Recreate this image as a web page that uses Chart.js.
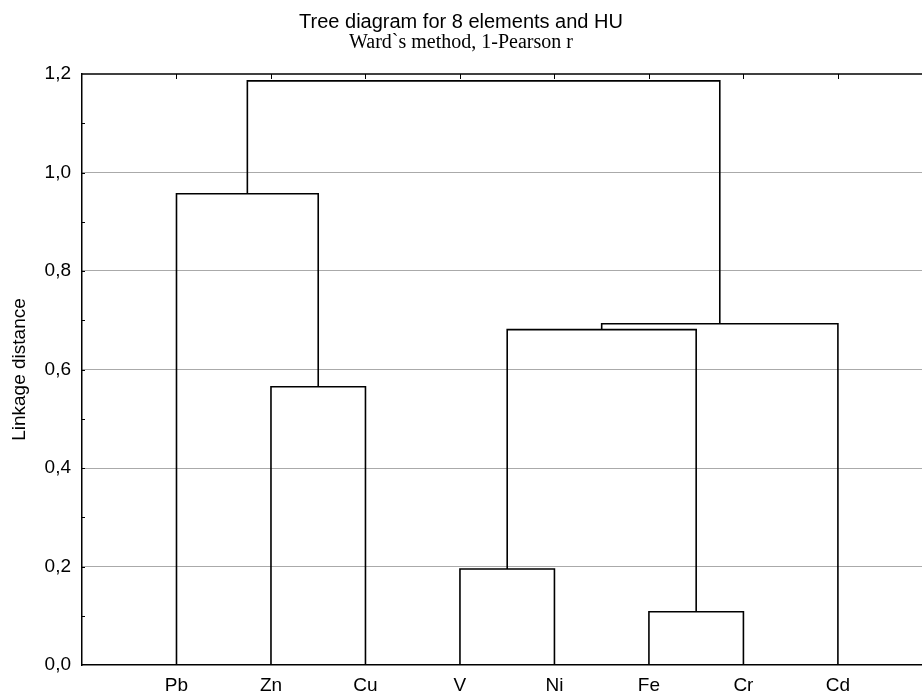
<!DOCTYPE html>
<html>
<head>
<meta charset="utf-8">
<script src="https://cdn.jsdelivr.net/npm/chart.js@4/dist/chart.umd.min.js"></script>
<style>
  html, body { margin: 0; padding: 0; background: #fff; overflow: hidden; }
  canvas { display: block; }
</style>
</head>
<body>
<canvas id="chart" width="922" height="697"></canvas>
<script>
// Hojas del dendrograma (orden en el eje X)
const leaves = ['Pb', 'Zn', 'Cu', 'V', 'Ni', 'Fe', 'Cr', 'Cd'];

// Uniones: índices 0-7 son hojas, 8+ son los clusters formados en orden
const linkLeft = [5, 3, 1, 9, 11, 0, 13];
const linkRight = [6, 4, 2, 8, 7, 10, 12];
const linkHeight = [0.108, 0.195, 0.565, 0.681, 0.693, 0.957, 1.186];

const yTicks = [0, 0.2, 0.4, 0.6, 0.8, 1.0, 1.2];

// Posición x / altura de cada nodo
const nodeX = leaves.map((_, i) => i + 1);
const nodeY = leaves.map(() => 0);

const datasets = [];
linkLeft.forEach((l, i) => {
	const r = linkRight[i];
	const h = linkHeight[i];
	datasets.push({
		data: [
			{ x: nodeX[l], y: nodeY[l] },
			{ x: nodeX[l], y: h },
			{ x: nodeX[r], y: h },
			{ x: nodeX[r], y: nodeY[r] }
		],
		showLine: true,
		borderColor: '#000',
		borderWidth: 1.6,
		pointRadius: 0,
		tension: 0
	});
	nodeX.push((nodeX[l] + nodeX[r]) / 2);
	nodeY.push(h);
});

const sans = "'Liberation Sans', Arial, sans-serif";

// Marco superior y marcas hacia dentro
const framePlugin = {
	id: 'frame',
	afterDraw(chart) {
		const { ctx, chartArea, scales } = chart;
		ctx.save();
		ctx.strokeStyle = '#000';
		ctx.lineWidth = 1.5;
		ctx.beginPath();
		ctx.moveTo(chartArea.left, chartArea.top);
		ctx.lineTo(chartArea.right + 2, chartArea.top);
		ctx.stroke();

		ctx.lineWidth = 1;
		ctx.beginPath();
		for (let v = 0.1; v < 1.2; v += 0.1) {
			const y = Math.round(scales.y.getPixelForValue(v)) + 0.5;
			ctx.moveTo(chartArea.left, y);
			ctx.lineTo(chartArea.left + 3, y);
		}
		leaves.forEach((_, i) => {
			const x = Math.round(scales.x.getPixelForValue(i + 1)) + 0.5;
			ctx.moveTo(x, chartArea.top);
			ctx.lineTo(x, chartArea.top + 5);
		});
		ctx.stroke();
		ctx.restore();
	}
};

const canvas = document.getElementById('chart');

new Chart(canvas, {
	type: 'scatter',
	data: { datasets },
	plugins: [framePlugin],
	options: {
		responsive: false,
		animation: false,
		devicePixelRatio: 1,
		layout: { padding: 0 },
		plugins: {
			legend: { display: false },
			tooltip: { enabled: false },
			title: {
				display: true,
				text: 'Tree diagram for 8 elements and HU',
				color: '#000',
				font: { family: sans, size: 20, weight: 'normal', lineHeight: 1 },
				padding: { top: 12, bottom: 0 }
			},
			subtitle: {
				display: true,
				text: 'Ward`s method, 1-Pearson r',
				color: '#000',
				font: { family: "'Liberation Serif', 'Times New Roman', serif", size: 20, lineHeight: 1 },
				padding: { top: 1, bottom: 21 }
			}
		},
		scales: {
			x: {
				type: 'linear',
				min: 0,
				max: 8.89,
				afterBuildTicks: (scale) => {
					scale.ticks = leaves.map((_, i) => ({ value: i + 1 }));
				},
				afterFit: (scale) => {
					scale.height = 32;
				},
				ticks: {
					callback: (v) => leaves[v - 1] || '',
					color: '#000',
					font: { family: sans, size: 19 },
					padding: 9,
					maxRotation: 0,
					autoSkip: false
				},
				grid: { display: false, drawTicks: false },
				border: { display: true, color: '#000', width: 1.5 }
			},
			y: {
				min: 0,
				max: 1.2,
				afterBuildTicks: (scale) => {
					scale.ticks = yTicks.map((v) => ({ value: v }));
				},
				afterFit: (scale) => {
					scale.width = 82;
				},
				ticks: {
					callback: (v) => v.toFixed(1).replace('.', ','),
					color: '#000',
					font: { family: sans, size: 19 },
					padding: 11
				},
				grid: {
					drawTicks: false,
					color: (c) => (c.tick && c.tick.value > 0.01 && c.tick.value < 1.19 ? '#555' : 'rgba(0,0,0,0)'),
					lineWidth: 1
				},
				border: { display: true, color: '#000', width: 1.5, dash: [1, 1] },
				title: {
					display: true,
					text: 'Linkage distance',
					color: '#000',
					font: { family: sans, size: 19 },
					padding: { top: 8, bottom: 0 }
				}
			}
		}
	}
});
</script>
</body>
</html>
